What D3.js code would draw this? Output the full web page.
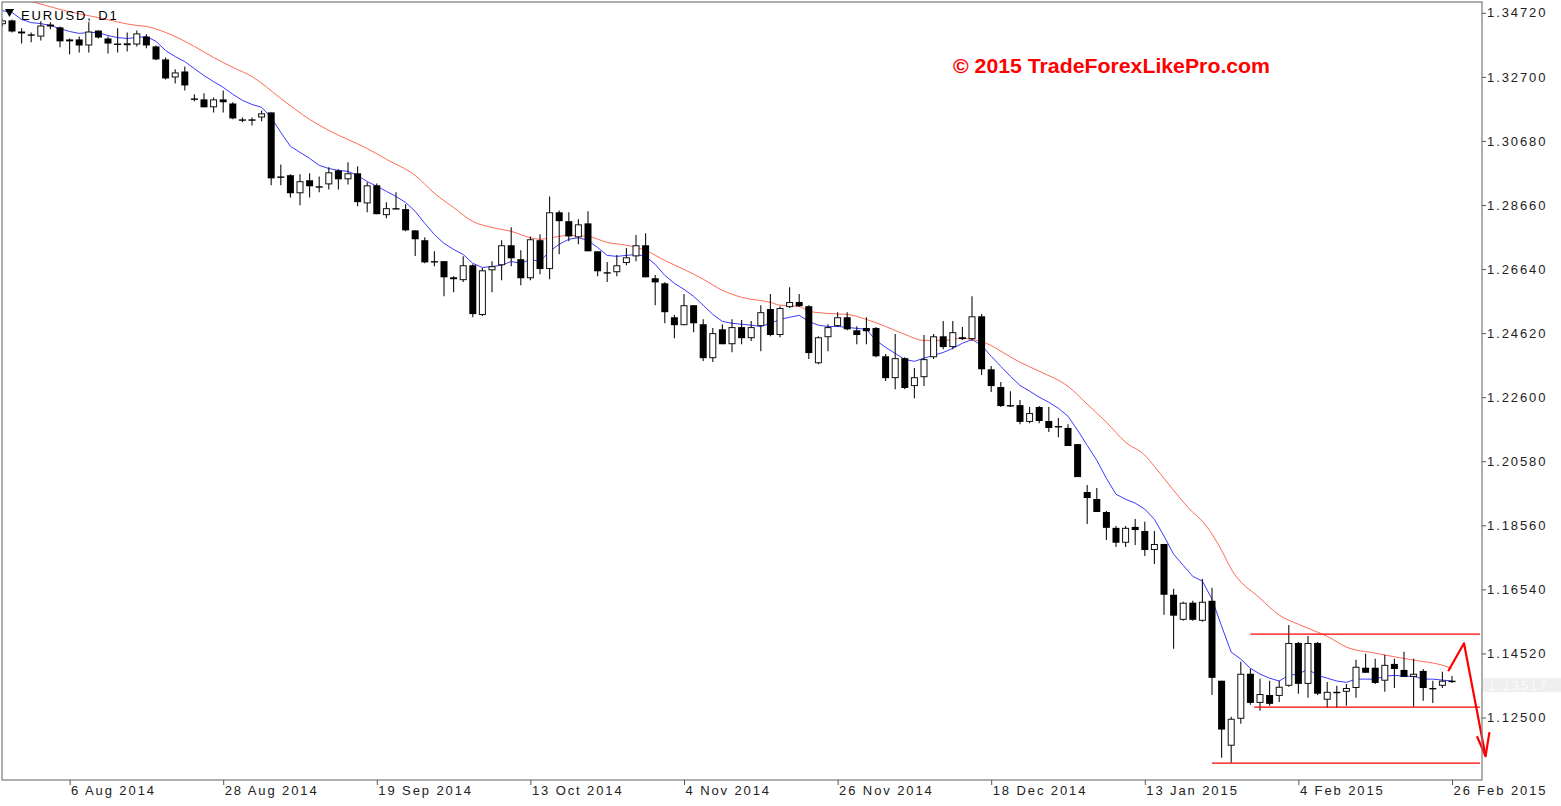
<!DOCTYPE html>
<html><head><meta charset="utf-8">
<script src="https://cdn.jsdelivr.net/npm/d3@7"></script>
<style>
body{margin:0;background:#fff;}
svg{display:block;}
text{font-family:"Liberation Sans",Arial,Helvetica,sans-serif;}
</style>
</head><body>
<svg id="chart" width="1561" height="806"></svg>
<script>
// ---- data (bar index 0..151, daily EURUSD) ----
const opens = [1.3436,1.3448,1.3413,1.3404,1.3397,1.3435,1.3426,1.3388,1.3388,1.3369,1.3416,1.3391,1.3375,1.3374,1.3372,1.3397,1.3366,1.3325,1.3268,1.3287,1.3202,1.3199,1.3174,1.3199,1.3186,1.3136,1.3136,1.3142,1.3158,1.2956,1.2960,1.2903,1.2944,1.2925,1.2931,1.2975,1.2947,1.2966,1.2871,1.2928,1.2834,1.2856,1.2853,1.2786,1.2755,1.2689,1.2689,1.2638,1.2629,1.2676,1.2519,1.2660,1.2676,1.2739,1.2695,1.2635,1.2755,1.2664,1.2843,1.2815,1.2764,1.2808,1.2720,1.2654,1.2654,1.2683,1.2704,1.2739,1.2635,1.2619,1.2512,1.2487,1.2550,1.2490,1.2383,1.2474,1.2427,1.2481,1.2446,1.2484,1.2538,1.2456,1.2544,1.2560,1.2547,1.2367,1.2449,1.2484,1.2512,1.2471,1.2478,1.2478,1.2389,1.2320,1.2383,1.2295,1.2323,1.2386,1.2452,1.2418,1.2449,1.2443,1.2515,1.2348,1.2292,1.2235,1.2235,1.2182,1.2229,1.2185,1.2169,1.2163,1.2112,1.1961,1.1939,1.1898,1.1848,1.1801,1.1851,1.1838,1.1778,1.1797,1.1637,1.1558,1.1612,1.1555,1.1618,1.1366,1.1161,1.1246,1.1388,1.1296,1.1321,1.1318,1.1350,1.1485,1.1356,1.1485,1.1306,1.1331,1.1331,1.1343,1.1407,1.1407,1.1366,1.1419,1.1400,1.1378,1.1397,1.1343,1.1350,1.1366];
const highs = [1.3451,1.3451,1.3423,1.3410,1.3445,1.3442,1.3429,1.3391,1.3397,1.3442,1.3416,1.3397,1.3423,1.3410,1.3416,1.3404,1.3369,1.3331,1.3294,1.3303,1.3215,1.3218,1.3205,1.3227,1.3190,1.3142,1.3142,1.3164,1.3158,1.2994,1.2963,1.2963,1.2966,1.2956,1.2985,1.2979,1.3001,1.2988,1.2938,1.2934,1.2875,1.2906,1.2868,1.2786,1.2764,1.2720,1.2689,1.2641,1.2704,1.2679,1.2667,1.2689,1.2755,1.2796,1.2723,1.2767,1.2774,1.2893,1.2849,1.2843,1.2821,1.2846,1.2720,1.2686,1.2708,1.2730,1.2771,1.2777,1.2645,1.2622,1.2519,1.2585,1.2550,1.2506,1.2478,1.2490,1.2506,1.2503,1.2500,1.2550,1.2585,1.2547,1.2607,1.2585,1.2550,1.2452,1.2490,1.2528,1.2528,1.2484,1.2512,1.2481,1.2396,1.2459,1.2386,1.2352,1.2456,1.2459,1.2500,1.2500,1.2481,1.2578,1.2522,1.2358,1.2308,1.2279,1.2251,1.2229,1.2232,1.2229,1.2194,1.2175,1.2112,1.1983,1.1974,1.1901,1.1854,1.1854,1.1876,1.1867,1.1838,1.1797,1.1656,1.1615,1.1618,1.1687,1.1659,1.1366,1.1252,1.1426,1.1404,1.1372,1.1366,1.1366,1.1542,1.1488,1.1507,1.1488,1.1362,1.1350,1.1356,1.1432,1.1451,1.1435,1.1448,1.1435,1.1457,1.1435,1.1403,1.1366,1.1394,1.1381];
const lows = [1.3429,1.3410,1.3375,1.3379,1.3385,1.3420,1.3363,1.3341,1.3347,1.3347,1.3391,1.3344,1.3347,1.3350,1.3366,1.3360,1.3322,1.3262,1.3249,1.3227,1.3193,1.3174,1.3158,1.3158,1.3136,1.3127,1.3117,1.3130,1.2928,1.2928,1.2890,1.2865,1.2890,1.2906,1.2915,1.2915,1.2931,1.2862,1.2843,1.2837,1.2824,1.2853,1.2783,1.2705,1.2682,1.2673,1.2578,1.2591,1.2623,1.2512,1.2516,1.2591,1.2629,1.2673,1.2613,1.2629,1.2648,1.2632,1.2711,1.2752,1.2742,1.2720,1.2641,1.2623,1.2641,1.2676,1.2689,1.2638,1.2550,1.2493,1.2446,1.2487,1.2465,1.2374,1.2371,1.2427,1.2402,1.2427,1.2437,1.2405,1.2452,1.2449,1.2541,1.2544,1.2380,1.2364,1.2405,1.2481,1.2471,1.2427,1.2427,1.2386,1.2311,1.2285,1.2285,1.2257,1.2295,1.2380,1.2411,1.2411,1.2440,1.2437,1.2330,1.2276,1.2229,1.2229,1.2175,1.2178,1.2178,1.2150,1.2134,1.2106,1.2008,1.1860,1.1898,1.1810,1.1788,1.1788,1.1794,1.1759,1.1734,1.1574,1.1467,1.1555,1.1555,1.1552,1.1321,1.1123,1.1107,1.1230,1.1290,1.1271,1.1287,1.1299,1.1347,1.1325,1.1312,1.1321,1.1281,1.1281,1.1287,1.1312,1.1391,1.1356,1.1331,1.1343,1.1378,1.1284,1.1303,1.1296,1.1343,1.1359];
const closes = [1.3448,1.3413,1.3407,1.3402,1.3432,1.3429,1.3382,1.3382,1.3369,1.3413,1.3394,1.3375,1.3374,1.3376,1.3407,1.3369,1.3325,1.3265,1.3284,1.3243,1.3200,1.3174,1.3199,1.3190,1.3139,1.3133,1.3133,1.3155,1.2950,1.2953,1.2903,1.2941,1.2925,1.2922,1.2969,1.2947,1.2966,1.2875,1.2928,1.2837,1.2856,1.2853,1.2786,1.2758,1.2685,1.2685,1.2638,1.2632,1.2676,1.2522,1.2660,1.2673,1.2739,1.2698,1.2635,1.2758,1.2664,1.2843,1.2815,1.2767,1.2805,1.2720,1.2657,1.2653,1.2676,1.2701,1.2739,1.2638,1.2622,1.2528,1.2487,1.2550,1.2493,1.2383,1.2462,1.2427,1.2481,1.2446,1.2481,1.2528,1.2456,1.2541,1.2560,1.2547,1.2399,1.2449,1.2481,1.2512,1.2474,1.2456,1.2468,1.2389,1.2320,1.2383,1.2289,1.2323,1.2380,1.2452,1.2418,1.2465,1.2443,1.2515,1.2348,1.2295,1.2232,1.2232,1.2182,1.2210,1.2185,1.2163,1.2166,1.2106,1.2008,1.1942,1.1898,1.1848,1.1801,1.1848,1.1841,1.1778,1.1797,1.1637,1.1571,1.1612,1.1558,1.1615,1.1375,1.1212,1.1246,1.1388,1.1296,1.1324,1.1293,1.1347,1.1485,1.1356,1.1485,1.1325,1.1331,1.1330,1.1343,1.1410,1.1391,1.1359,1.1416,1.1403,1.1378,1.1388,1.1343,1.1342,1.1366,1.1365];

// fast moving average (blue), one value per bar
const maFast = [1.3479,1.3473,1.3451,1.3441,1.3438,1.3432,1.3422,1.3413,1.3407,1.3410,1.3410,1.3400,1.3394,1.3391,1.3394,1.3397,1.3382,1.3353,1.3334,1.3318,1.3296,1.3274,1.3255,1.3237,1.3215,1.3196,1.3183,1.3174,1.3142,1.3095,1.3051,1.3032,1.3013,1.2991,1.2981,1.2975,1.2972,1.2959,1.2940,1.2925,1.2909,1.2893,1.2874,1.2846,1.2808,1.2773,1.2745,1.2726,1.2710,1.2682,1.2669,1.2672,1.2676,1.2688,1.2682,1.2694,1.2688,1.2720,1.2742,1.2758,1.2763,1.2754,1.2732,1.2707,1.2704,1.2707,1.2710,1.2704,1.2679,1.2644,1.2619,1.2600,1.2578,1.2550,1.2521,1.2499,1.2493,1.2490,1.2487,1.2483,1.2493,1.2505,1.2512,1.2518,1.2499,1.2487,1.2483,1.2483,1.2480,1.2477,1.2474,1.2439,1.2417,1.2398,1.2379,1.2373,1.2383,1.2392,1.2401,1.2414,1.2430,1.2442,1.2423,1.2389,1.2357,1.2326,1.2297,1.2279,1.2260,1.2244,1.2225,1.2200,1.2156,1.2108,1.2061,1.2004,1.1954,1.1938,1.1926,1.1907,1.1875,1.1822,1.1765,1.1730,1.1695,1.1680,1.1623,1.1538,1.1456,1.1434,1.1405,1.1387,1.1374,1.1365,1.1383,1.1387,1.1402,1.1383,1.1374,1.1365,1.1361,1.1371,1.1371,1.1371,1.1380,1.1383,1.1380,1.1380,1.1371,1.1371,1.1368,1.1365];

// slow moving average (red), read at these bars
const maSlowBars = [1,3,7,10,14,15,17,20,22,24,26,29,32,34,38,40,43,45,47,49,51,53,55,56,58,59,61,63,65,67,69,71,73,75,77,80,81,83,84,86,88,90,92,94,96,98,100,101,103,104,106,108,111,113,115,117,119,120,122,124,125,127,128,131,133,135,137,138,140,143,144,147,150,151];
const maSlowVals = [1.3523,1.3508,1.3475,1.3457,1.3432,1.3429,1.3410,1.3366,1.3331,1.3300,1.3271,1.3202,1.3136,1.3101,1.3044,1.3010,1.2959,1.2903,1.2858,1.2814,1.2795,1.2783,1.2763,1.2758,1.2767,1.2770,1.2767,1.2748,1.2739,1.2723,1.2691,1.2663,1.2632,1.2597,1.2575,1.2559,1.2550,1.2546,1.2531,1.2524,1.2521,1.2505,1.2483,1.2458,1.2439,1.2439,1.2446,1.2442,1.2423,1.2405,1.2370,1.2342,1.2294,1.2238,1.2181,1.2118,1.2077,1.2042,1.1966,1.1897,1.1869,1.1777,1.1718,1.1626,1.1573,1.1544,1.1519,1.1506,1.1472,1.1453,1.1447,1.1431,1.1415,1.1405];

const tickBars = [7,23,39,55,71,87,103,119,135,151];
const tickLabels = ["6 Aug 2014","28 Aug 2014","19 Sep 2014","13 Oct 2014","4 Nov 2014","26 Nov 2014","18 Dec 2014","13 Jan 2015","4 Feb 2015","26 Feb 2015"];
const priceTicks = [1.34720,1.32700,1.30680,1.28660,1.26640,1.24620,1.22600,1.20580,1.18560,1.16540,1.14520,1.12500];

// drawn annotations (in bar / price units)
const levelPrices = [1.1513, 1.1283, 1.1106];
const levelStartBars = [130, 130.4, 126];
const arrowBars = [150.6, 152.25, 154.5];
const arrowPrices = [1.1396, 1.1484, 1.1128];
const headBars = [153.6, 154.5, 154.9];
const headPrices = [1.1191, 1.1128, 1.1204];

const symbolTitle = "EURUSD, D1";
const watermark = "\u00A9 2015 TradeForexLikePro.com";
const lastPrice = 1.13517;

// ---- layout ----
const svg = d3.select("#chart");
const pL = 2, pR = 1482, pT = 2, pB = 780;
const x = d3.scaleLinear().domain([0, 151]).range([2.4, 1452]);
const y = d3.scaleLinear().domain([1.125, 1.3472]).range([717.5, 12.8]);

svg.append("defs").append("clipPath").attr("id","plotclip")
  .append("rect").attr("x",pL).attr("y",pT).attr("width",pR-pL).attr("height",pB-pT);

const plot = svg.append("g").attr("clip-path","url(#plotclip)");

// watermark
svg.append("text").attr("x",953).attr("y",73)
  .attr("font-size",20).attr("font-weight","bold").attr("fill","#ff0000")
  .attr("textLength",317).attr("lengthAdjust","spacingAndGlyphs")
  .text(watermark);

// moving averages
const fastLine = d3.line().x((d,i)=>x(i)).y(d=>y(d));
plot.append("path").datum(maFast).attr("d",fastLine)
  .attr("fill","none").attr("stroke","#3a3aff").attr("stroke-width",1);
const slowLine = d3.line().x(d=>x(d[0])).y(d=>y(d[1])).curve(d3.curveMonotoneX);
plot.append("path").datum(maSlowBars.map((b,i)=>[b,maSlowVals[i]])).attr("d",slowLine)
  .attr("fill","none").attr("stroke","#ff6a55").attr("stroke-width",1);

// candles
const bars = opens.map((o,i)=>({i,o,h:highs[i],l:lows[i],c:closes[i]}));
const bw = 7;
const cg = plot.append("g");
cg.selectAll("line.wick").data(bars).join("line").attr("class","wick")
  .attr("x1",d=>x(d.i)).attr("x2",d=>x(d.i))
  .attr("y1",d=>y(d.h)).attr("y2",d=>y(d.l))
  .attr("stroke","#111").attr("stroke-width",1.1);
cg.selectAll("rect.body").data(bars).join("rect").attr("class","body")
  .attr("x",d=> d.c>d.o ? x(d.i)-bw/2+0.5 : x(d.i)-bw/2)
  .attr("width",d=> d.c>d.o ? bw-1 : bw)
  .attr("y",d=>{const t=y(Math.max(d.o,d.c)); return d.c>d.o ? t+0.5 : t;})
  .attr("height",d=>{const hh=Math.abs(y(d.o)-y(d.c)); return d.c>d.o ? Math.max(1,hh-1) : Math.max(1.4,hh);})
  .attr("fill",d=> d.c>d.o ? "#ffffff" : "#000000")
  .attr("stroke",d=> d.c>d.o ? "#111" : "none")
  .attr("stroke-width",1);

// horizontal levels
svg.selectAll("line.level").data(levelPrices).join("line").attr("class","level")
  .attr("x1",(d,i)=>x(levelStartBars[i])).attr("x2",pR-2)
  .attr("y1",d=>y(d)).attr("y2",d=>y(d))
  .attr("stroke","#ff0000").attr("stroke-width",1.3);

// arrow
const arrowLine = d3.line().x(d=>x(d[0])).y(d=>y(d[1]));
svg.append("path").datum(arrowBars.map((b,i)=>[b,arrowPrices[i]])).attr("d",arrowLine)
  .attr("fill","none").attr("stroke","#ff0000").attr("stroke-width",2.2).attr("stroke-linejoin","round");
svg.append("path").datum(headBars.map((b,i)=>[b,headPrices[i]])).attr("d",arrowLine)
  .attr("fill","none").attr("stroke","#ff0000").attr("stroke-width",2.2).attr("stroke-linejoin","round");

// frame
svg.append("rect").attr("x",pL).attr("y",pT).attr("width",pR-pL).attr("height",pB-pT)
  .attr("fill","none").attr("stroke","#7a7a7a").attr("stroke-width",1.2);

// current price box
svg.append("rect").attr("x",pR+1).attr("y",y(lastPrice)-7).attr("width",1561-pR-1).attr("height",14)
  .attr("fill","#efefef");
svg.append("text").attr("x",pR+6).attr("y",y(lastPrice)+4.5).attr("font-size",13)
  .attr("letter-spacing","1.9px").attr("fill","#fbfbfb").text(d3.format(".5f")(lastPrice));

// right axis
const yAxis = d3.axisRight(y).tickValues(priceTicks).tickFormat(d3.format(".5f")).tickSize(4).tickPadding(1);
const ya = svg.append("g").attr("transform",`translate(${pR},0)`).call(yAxis);
ya.select(".domain").remove();
ya.selectAll(".tick line").attr("stroke","#555");
ya.selectAll(".tick text").attr("font-size",13).attr("fill","#222")
  .attr("font-family","'Liberation Sans',Arial,sans-serif").attr("letter-spacing","1.9px");

// bottom axis
const xAxis = d3.axisBottom(x).tickValues(tickBars).tickFormat((d,i)=>tickLabels[i]).tickSize(5);
const xa = svg.append("g").attr("transform",`translate(0,${pB})`).call(xAxis);
xa.select(".domain").remove();
xa.selectAll(".tick line").attr("stroke","#555");
xa.selectAll(".tick text").attr("font-size",13).attr("fill","#222")
  .attr("font-family","'Liberation Sans',Arial,sans-serif").attr("letter-spacing","1.9px")
  .attr("text-anchor","start").attr("x",1).attr("y",6).attr("dy","0.71em");

// title
svg.append("path").attr("d","M5,9 L14,9 L9.5,17 Z").attr("fill","#000");
svg.append("text").attr("x",21).attr("y",20).attr("font-size",13).attr("letter-spacing","1.9px")
  .attr("fill","#000").text(symbolTitle);
</script>
</body></html>
